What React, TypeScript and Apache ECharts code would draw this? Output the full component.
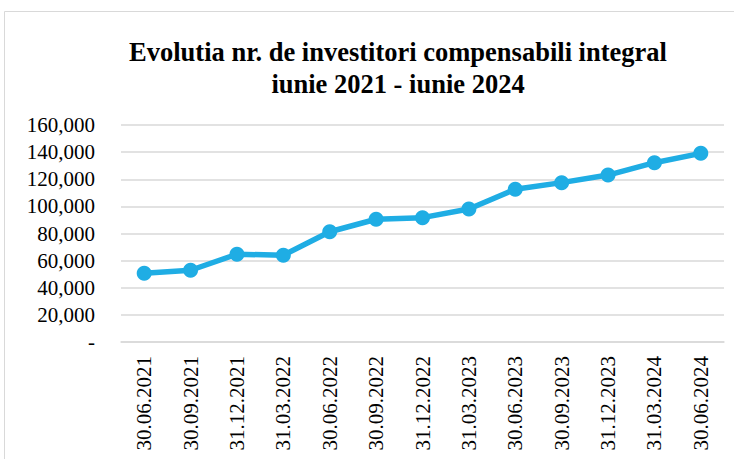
import React, { useEffect, useRef } from "react";
import * as echarts from "echarts";

const categories = [
  "30.06.2021", "30.09.2021", "31.12.2021", "31.03.2022", "30.06.2022", "30.09.2022",
  "31.12.2022", "31.03.2023", "30.06.2023", "30.09.2023", "31.12.2023", "31.03.2024", "30.06.2024",
];
const investors = [
  50700, 52900, 64700, 64000, 81300, 90500, 91700, 98100, 112600, 117500, 123100, 132200, 139100,
];
const yTicks = [0, 20000, 40000, 60000, 80000, 100000, 120000, 140000, 160000];
const titleLines = ["Evolutia nr. de investitori compensabili integral", "iunie 2021 - iunie 2024"];

export default function App() {
  const ref = useRef<HTMLDivElement>(null);
  useEffect(() => {
    if (!ref.current) return;
    const chart = echarts.init(ref.current, undefined, { renderer: "svg" });
    const font = "Liberation Serif";
    chart.setOption({
      animation: false,
      backgroundColor: "#ffffff",
      title: {
        text: titleLines.join("\n"),
        left: 393,
        top: 31,
        textAlign: "center",
        textStyle: {
          fontFamily: font,
          fontWeight: "bold",
          fontSize: 26.5,
          lineHeight: 32,
          color: "#000000",
        },
      },
      graphic: [
        { type: "line", shape: { x1: 4.5, y1: 11.5, x2: 734, y2: 11.5 }, style: { stroke: "#d9d9d9", lineWidth: 1 } },
        { type: "line", shape: { x1: 4.5, y1: 11.5, x2: 4.5, y2: 459 }, style: { stroke: "#d9d9d9", lineWidth: 1 } },
      ],
      grid: { left: 121, right: 10, top: 125, bottom: 117, containLabel: false },
      xAxis: {
        type: "category",
        data: categories,
        boundaryGap: true,
        axisLine: { show: true, lineStyle: { color: "#d9d9d9", width: 1.5 } },
        axisTick: { show: false },
        axisLabel: {
          rotate: 90,
          interval: 0,
          margin: 14,
          fontFamily: font,
          fontSize: 21,
          color: "#000000",
        },
      },
      yAxis: {
        type: "value",
        min: yTicks[0],
        max: yTicks[yTicks.length - 1],
        interval: 20000,
        axisLine: { show: false },
        axisTick: { show: false },
        splitLine: { lineStyle: { color: "#d9d9d9", width: 1.5 } },
        axisLabel: {
          margin: 26,
          fontFamily: font,
          fontSize: 21,
          color: "#000000",
          formatter: (v: number) => (v === 0 ? "-" : v.toLocaleString("en-US")),
        },
      },
      series: [
        {
          type: "line",
          data: investors,
          symbol: "circle",
          symbolSize: 15,
          lineStyle: { color: "#1fade4", width: 5.5 },
          itemStyle: { color: "#1fade4" },
        },
      ],
    });
    return () => chart.dispose();
  }, []);
  return (
    <div
      ref={ref}
      style={{ position: "fixed", left: 0, top: 0, width: 734, height: 459 }}
    />
  );
}
